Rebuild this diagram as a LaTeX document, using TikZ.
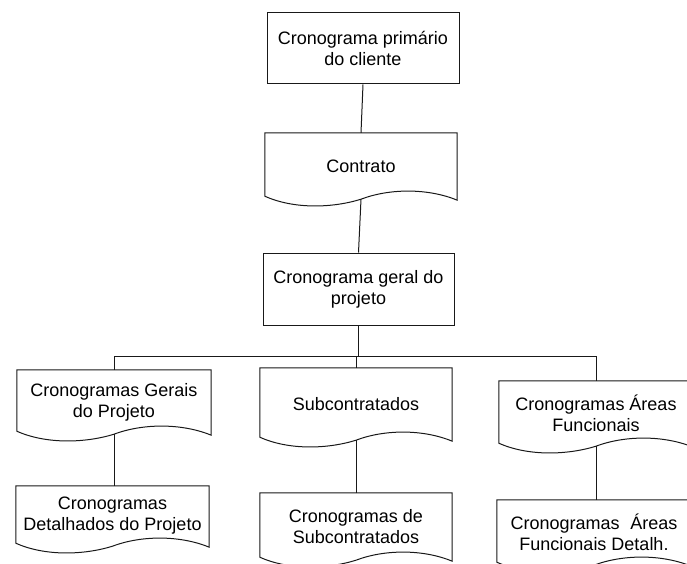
\documentclass[tikz,border=0pt]{standalone}
\usepackage{fontspec}
\setmainfont{Liberation Sans}
\usetikzlibrary{calc}

\tikzset{
  flow/.style={line width=1pt, draw=black!90},
  txt/.style={align=center, inner sep=0pt, font=\fontsize{18}{21}\selectfont},
  plainbox/.style={txt, rectangle, draw, flow},
  docnode/.style={txt, rectangle},
  link/.style={flow},
}

% outline of a "document" symbol around a node: flat top, wavy bottom
\newcommand\docoutline[1]{%
  \draw[flow, line join=miter]
    ($(#1.south west)+(0,3)$) -- (#1.north west) -- (#1.north east)
    -- ($(#1.south east)+(0,-1)$)
    .. controls ($(#1.south)!0.7!(#1.south east)+(0,11)$)
           and ($(#1.south)!0.3!(#1.south east)+(0,11)$) .. (#1.south)
    .. controls ($(#1.south)!0.3!(#1.south west)+(0,-9)$)
           and ($(#1.south)!0.7!(#1.south west)+(0,-10)$) .. ($(#1.south west)+(0,3)$)
    -- cycle;}

\begin{document}
\begin{tikzpicture}[x=1pt, y=1pt]
  \clip (0,0) rectangle (687,563);
  \fill[white] (0,0) rectangle (687,563);

  % upper chain
  \node[plainbox, minimum width=192pt, minimum height=71pt] (top) at (363,514.5)
    {Cronograma primário\\do cliente};
  \node[docnode, minimum width=192pt, minimum height=66pt] (contrato) at (361,397)
    {Contrato};
  \docoutline{contrato}
  \node[plainbox, minimum width=191pt, minimum height=72pt] (geral) at (358.5,274)
    {Cronograma geral do\\projeto};

  % second level
  \node[docnode, minimum width=194pt, minimum height=64pt] (gerais) at (114,161)
    {Cronogramas Gerais\\do Projeto};
  \docoutline{gerais}
  \node[docnode, minimum width=192pt, minimum height=72pt] (sub) at (356,159)
    {Subcontratados};
  \docoutline{sub}
  \node[docnode, minimum width=194pt, minimum height=65pt] (areas) at (596,149.5)
    {Cronogramas Áreas\\Funcionais};
  \docoutline{areas}

  % third level
  \node[docnode, minimum width=193pt, minimum height=60pt] (detalhados) at (112.5,47)
    {Cronogramas\\Detalhados do Projeto};
  \docoutline{detalhados}
  \node[docnode, minimum width=192pt, minimum height=67pt] (subcron) at (356,36.5)
    {Cronogramas de\\Subcontratados};
  \docoutline{subcron}
  \node[docnode, minimum width=194pt, minimum height=65pt] (areasdet) at (594,30.5)
    {Cronogramas\hspace{0.6em}Áreas\\Funcionais Detalh.};
  \docoutline{areasdet}

  % connectors
  \draw[link] (top.south) -- (contrato.north);
  \draw[link] (contrato.south) -- (geral.north);

  \coordinate (bus) at ($(geral.south)+(0,-31)$);
  \draw[link] (geral.south) -- (bus);
  \draw[link] (gerais.north) |- (bus) -| (areas.north);
  \draw[link] (sub.north) -- (sub.north |- bus);

  \draw[link] (gerais.south) -- (gerais.south |- detalhados.north);
  \draw[link] (sub.south) -- (sub.south |- subcron.north);
  \draw[link] (areas.south) -- (areas.south |- areasdet.north);
\end{tikzpicture}
\end{document}
